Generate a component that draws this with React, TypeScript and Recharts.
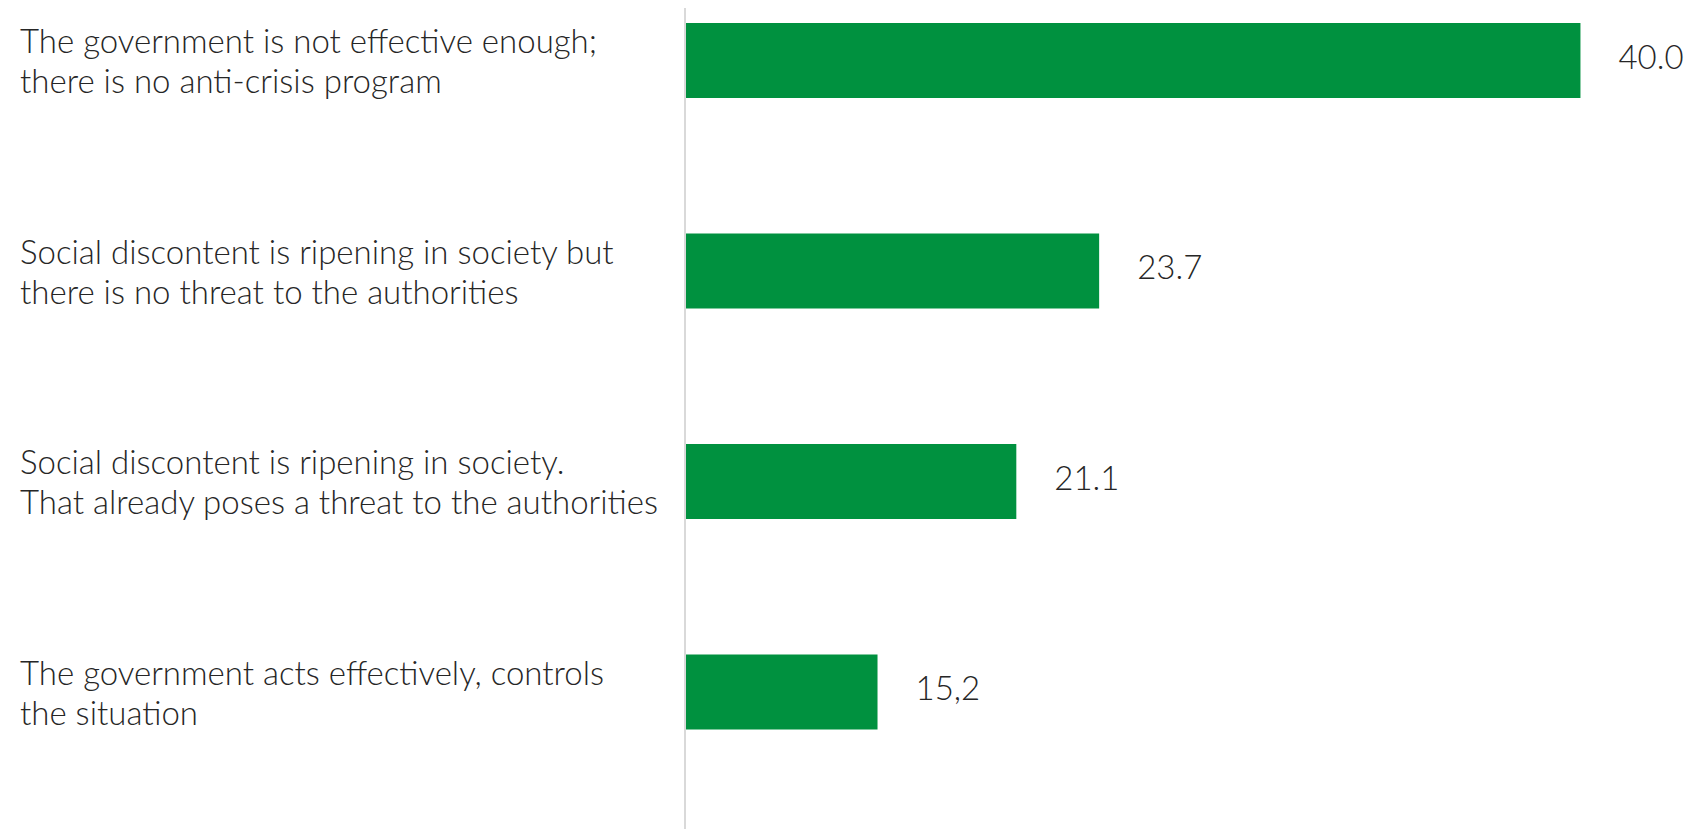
import React from 'react';
import { BarChart, Bar, XAxis, YAxis, LabelList } from 'recharts';

// Answer categories (line breaks as in the picture)
const categories = [
    'The government is not effective enough;\nthere is no anti-crisis program',
    'Social discontent is ripening in society but\nthere is no threat to the authorities',
    'Social discontent is ripening in society.\nThat already poses a threat to the authorities',
    'The government acts effectively, controls\nthe situation',
];

// Bar lengths as drawn (the drawn bars do not follow the printed numbers exactly)
const barValues = [40.0, 18.5, 14.8, 8.6];

// Printed labels, kept as they appear (incl. the comma in the last one)
const valueLabels = ['40.0', '23.7', '21.1', '15,2'];

const data = categories.map((name, i) => ({ name, value: barValues[i], label: valueLabels[i] }));

const FONT = 'Lato, "Open Sans", sans-serif';
const TEXT_COLOR = '#262626';
const BAR_COLOR = '#00913F';

const CategoryTick = (props: any) => {
    const { y, payload } = props;
    const lines: string[] = String(payload.value).split('\n');
    return (
        <text x={20} y={y - 7} fill={TEXT_COLOR} fontSize={33} fontWeight={300} fontFamily={FONT} textAnchor="start">
            {lines.map((line, i) => (
                <tspan key={i} x={20} dy={i === 0 ? 0 : 40}>{line}</tspan>
            ))}
        </text>
    );
};

const ValueLabel = (props: any) => {
    const { x, y, width, height, index } = props;
    return (
        <text x={x + width + 38} y={y + height / 2 + 8} fill={TEXT_COLOR} fontSize={33} fontWeight={300} fontFamily={FONT}>
            {valueLabels[index]}
        </text>
    );
};

const App = () => {
    return (
        <div style={{ width: 1690, height: 829, background: '#fff' }}>
            <style>{'body { margin: 0; }'}</style>
            <BarChart
                width={1690}
                height={829}
                data={data}
                layout="vertical"
                margin={{ top: 8, right: 20, bottom: 0, left: 0 }}
            >
                <XAxis type="number" domain={[0, 44]} hide />
                <YAxis
                    type="category"
                    dataKey="name"
                    width={685}
                    axisLine={{ stroke: '#d9d9d9', strokeWidth: 2 }}
                    tickLine={false}
                    tick={<CategoryTick />}
                    padding={{ top: -53, bottom: 32 }}
                    interval={0}
                />
                <Bar dataKey="value" fill={BAR_COLOR} barSize={75} isAnimationActive={false}>
                    <LabelList dataKey="label" content={<ValueLabel />} />
                </Bar>
            </BarChart>
        </div>
    );
};

export default App;
